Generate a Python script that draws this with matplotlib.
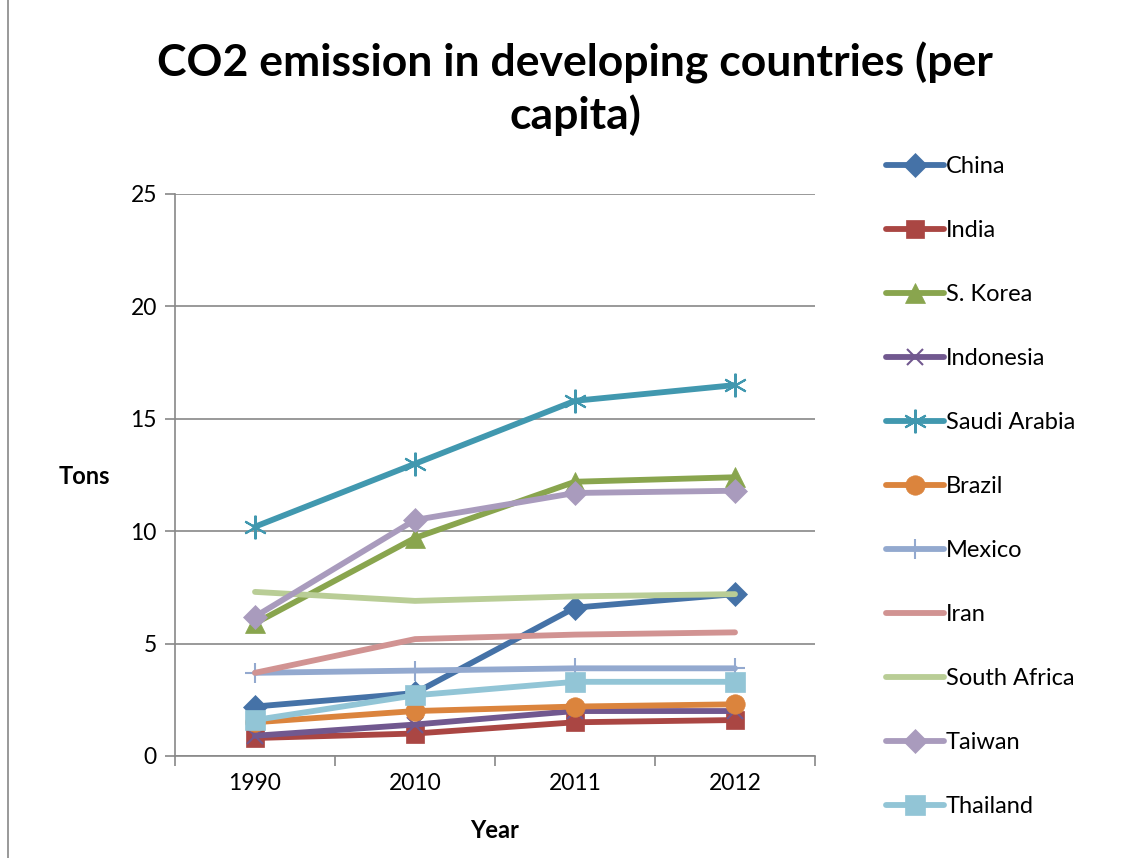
import matplotlib
matplotlib.use("Agg")
import matplotlib.pyplot as plt
from matplotlib.patches import Rectangle

plt.rcParams['font.family'] = ['Lato', 'DejaVu Sans']

years = ["1990", "2010", "2011", "2012"]

china = [2.2, 2.8, 6.6, 7.2]
india = [0.8, 1.0, 1.5, 1.6]
s_korea = [5.9, 9.7, 12.2, 12.4]
indonesia = [0.9, 1.4, 2.0, 2.0]
saudi_arabia = [10.2, 13.0, 15.8, 16.5]
brazil = [1.5, 2.0, 2.2, 2.3]
mexico = [3.7, 3.8, 3.9, 3.9]
iran = [3.7, 5.2, 5.4, 5.5]
south_africa = [7.3, 6.9, 7.1, 7.2]
taiwan = [6.2, 10.5, 11.7, 11.8]
thailand = [1.6, 2.7, 3.3, 3.3]

# (label, values, colour, marker, marker size)
series = [
    ("China", china, "#4572A7", "D", 12),
    ("India", india, "#AA4643", "s", 13),
    ("S. Korea", s_korea, "#89A54E", "^", 14),
    ("Indonesia", indonesia, "#71588F", "x", 12),
    ("Saudi Arabia", saudi_arabia, "#4198AF", (6, 2, 0), 17),
    ("Brazil", brazil, "#DB843D", "o", 14),
    ("Mexico", mexico, "#93A9CF", "+", 15),
    ("Iran", iran, "#D19392", None, 0),
    ("South Africa", south_africa, "#B9CD96", None, 0),
    ("Taiwan", taiwan, "#A99BBD", "D", 12),
    ("Thailand", thailand, "#92C5D6", "s", 15),
]

fig = plt.figure(figsize=(11.35, 8.58), dpi=100)
ax = fig.add_axes([175 / 1135, 1 - 756 / 858, 640 / 1135, 562 / 858])

x = list(range(len(years)))
for label, vals, col, mk, ms in series:
    ax.plot(x, vals, color=col, lw=4.2, marker=mk, markersize=ms,
            markeredgewidth=1.5 if mk in ("x", "+", (6, 2, 0)) else 0.5,
            markeredgecolor=col, label=label, solid_joinstyle="round",
            solid_capstyle="round")

ax.set_xlim(-0.5, 3.5)
ax.set_ylim(0, 25)
ax.set_yticks([0, 5, 10, 15, 20, 25])
ax.set_xticks(x)
ax.set_xticklabels(years)
ax.set_xticks([-0.5, 0.5, 1.5, 2.5, 3.5], minor=True)
ax.tick_params(axis="x", which="major", length=0, labelsize=16.5, pad=12)
ax.tick_params(axis="x", which="minor", length=7, color="#888888", width=1.2)
ax.tick_params(axis="y", length=7, color="#888888", width=1.2, labelsize=16.5,
               pad=6)
ax.yaxis.grid(True, color="#888888", lw=1.2)
ax.set_axisbelow(True)
for s in ("top", "right"):
    ax.spines[s].set_visible(False)
for s in ("left", "bottom"):
    ax.spines[s].set_color("#888888")
    ax.spines[s].set_linewidth(1.2)

fig.text(575 / 1135, 1 - 89 / 858, "CO2 emission in developing countries (per\ncapita)",
         ha="center", va="center", fontsize=32, fontweight="bold",
         linespacing=1.32)
fig.text(84 / 1135, 1 - 476 / 858, "Tons", ha="center", va="center",
         fontsize=17, fontweight="bold")
fig.text(495 / 1135, 1 - 830 / 858, "Year", ha="center", va="center",
         fontsize=17, fontweight="bold")

fig.legend(loc="upper left", bbox_to_anchor=(877 / 1135, 1 - 147 / 858),
           frameon=False, fontsize=17, labelspacing=1.82, handlelength=2.45,
           handletextpad=0.06, borderaxespad=0)

fig.patches.append(Rectangle((8 / 1135, -0.01), 1.2, 1.2,
                             transform=fig.transFigure, fill=False,
                             edgecolor="#888888", lw=1.2))

fig.savefig("out.png", dpi=100)
